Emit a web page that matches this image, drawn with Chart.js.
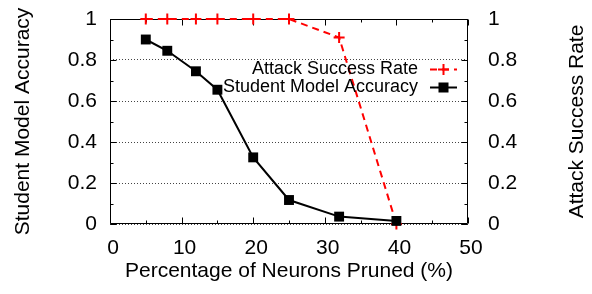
<!DOCTYPE html>
<html>
<head>
<meta charset="utf-8">
<script src="https://cdn.jsdelivr.net/npm/chart.js@4/dist/chart.umd.min.js"></script>
<style>
  html, body { margin: 0; padding: 0; background: #fff; }
  canvas { display: block; }
</style>
</head>
<body>
<canvas id="chart" width="592" height="294"></canvas>
<script>
/* pruning chart: accuracy vs attack success */
const pruned = [5, 8, 12, 15, 20, 25, 32, 40];
const accuracy = [0.90, 0.845, 0.745, 0.655, 0.325, 0.117, 0.036, 0.015];
const attackRate = [1, 1, 1, 1, 1, 1, 0.91, 0];

const xTicks = [0, 10, 20, 30, 40, 50];
const xMinor = [5, 15, 25, 35, 45];
const yTicks = [0, 0.2, 0.4, 0.6, 0.8, 1];
const yTickLabels = ['0', '0.2', '0.4', '0.6', '0.8', '1'];
const yMinor = [0.1, 0.3, 0.5, 0.7, 0.9];

const FONT = '"Liberation Sans", Arial, Helvetica, sans-serif';
const RED = '#ff0000';

const setTicks = list => scale => { scale.ticks = list.map(v => ({ value: v })); };
const yLabel = (v, i) => yTickLabels[i];
// fixed axis size, no extra label overhang
const fitTo = (w, h) => s => {
  if (w) s.width = w;
  if (h) s.height = h;
  s.paddingTop = s.paddingBottom = s.paddingLeft = s.paddingRight = 0;
};

// frame with inward ticks on all four sides
const frame = {
  id: 'frame',
  beforeDatasetsDraw(chart) {
    const { ctx, chartArea: a, scales: { x, y } } = chart;
    ctx.save();
    ctx.strokeStyle = '#000';
    ctx.lineWidth = 1;
    ctx.setLineDash([]);
    ctx.beginPath();
    const L = a.left + 0.5, R = a.right - 0.5, T = a.top + 0.5, B = a.bottom - 0.5;
    ctx.rect(L, T, R - L, B - T);
    const tx = (v, len) => {
      const px = Math.round(x.getPixelForValue(v)) + 0.5;
      ctx.moveTo(px, B); ctx.lineTo(px, B - len);
      ctx.moveTo(px, T); ctx.lineTo(px, T + len);
    };
    const ty = (v, len) => {
      const py = Math.round(y.getPixelForValue(v)) + 0.5;
      ctx.moveTo(L, py); ctx.lineTo(L + len, py);
      ctx.moveTo(R, py); ctx.lineTo(R - len, py);
    };
    xTicks.forEach(v => tx(v, 6));
    xMinor.forEach(v => tx(v, 3));
    yTicks.forEach(v => ty(v, 6));
    yMinor.forEach(v => ty(v, 3));
    ctx.stroke();
    ctx.restore();
  },
  afterDraw(chart) {
    const { ctx, chartArea: a } = chart;
    ctx.save();
    // right axis title, reading bottom to top
    ctx.fillStyle = '#000';
    ctx.font = '21px ' + FONT;
    ctx.textAlign = 'center';
    ctx.textBaseline = 'middle';
    ctx.translate(577, (a.top + a.bottom) / 2);
    ctx.rotate(-Math.PI / 2);
    ctx.fillText('Attack Success Rate', 0, 0);
    ctx.restore();

    // legend inside the plot, top right
    const rows = [chart.data.datasets[0], chart.data.datasets[1]];
    const textR = a.right - 50, s0 = a.right - 38, s1 = a.right - 11;
    const ys = [a.top + 50.5, a.top + 68.5];
    ctx.save();
    ctx.font = '18px ' + FONT;
    ctx.textAlign = 'right';
    ctx.textBaseline = 'middle';
    rows.forEach((ds, i) => {
      const yy = ys[i];
      ctx.fillStyle = '#000';
      ctx.fillText(ds.label, textR, yy);
      ctx.strokeStyle = ds.borderColor;
      ctx.lineWidth = ds.borderWidth;
      ctx.setLineDash(ds.borderDash || []);
      ctx.beginPath();
      ctx.moveTo(s0, yy); ctx.lineTo(s1, yy);
      ctx.stroke();
      ctx.setLineDash([]);
      const cx = (s0 + s1) / 2;
      if (ds.pointStyle === 'cross') {
        ctx.lineWidth = 2;
        ctx.beginPath();
        ctx.moveTo(cx - 5.5, yy); ctx.lineTo(cx + 5.5, yy);
        ctx.moveTo(cx, yy - 5.5); ctx.lineTo(cx, yy + 5.5);
        ctx.stroke();
      } else {
        ctx.fillStyle = ds.pointBackgroundColor;
        ctx.fillRect(cx - 5, yy - 5, 10, 10);
      }
    });
    ctx.restore();
  }
};

new Chart(document.getElementById('chart'), {
  type: 'line',
  data: {
    datasets: [
      {
        label: 'Attack Success Rate',
        data: pruned.map((v, i) => ({ x: v, y: attackRate[i] })),
        yAxisID: 'y2',
        borderColor: RED, borderWidth: 2, borderDash: [7, 5],
        pointStyle: 'cross', pointRadius: 5.5, pointBorderWidth: 2,
        pointBorderColor: RED, pointBackgroundColor: RED,
        tension: 0, clip: false, order: 1
      },
      {
        label: 'Student Model Accuracy',
        data: pruned.map((v, i) => ({ x: v, y: accuracy[i] })),
        yAxisID: 'y',
        borderColor: '#000', borderWidth: 2,
        pointStyle: 'rect', pointRadius: 7, pointBorderWidth: 0,
        pointBackgroundColor: '#000', pointBorderColor: '#000',
        tension: 0, clip: false, order: 0
      }
    ]
  },
  options: {
    responsive: false,
    animation: false,
    events: [],
    layout: { padding: { top: 19, left: 0, right: 0, bottom: 0 } },
    plugins: { legend: { display: false }, tooltip: { enabled: false } },
    scales: {
      x: {
        type: 'linear', min: 0, max: 50,
        afterBuildTicks: setTicks(xTicks),
        afterFit: fitTo(0, 70),
        ticks: { color: '#000', font: { family: FONT, size: 21 }, padding: 12, labelOffset: 3 },
        grid: { display: false, drawTicks: false },
        border: { display: false },
        title: {
          display: true, text: 'Percentage of Neurons Pruned (%)', color: '#000',
          font: { family: FONT, size: 21 }, padding: { top: 0, bottom: 10 }
        }
      },
      y: {
        position: 'left', min: 0, max: 1,
        afterBuildTicks: setTicks(yTicks),
        afterFit: fitTo(110, 0),
        ticks: { color: '#000', font: { family: FONT, size: 21 }, padding: 13, callback: yLabel },
        grid: { color: '#444', lineWidth: 1, drawTicks: false },
        border: { display: false, dash: [1, 2] },
        title: {
          display: true, text: 'Student Model Accuracy', color: '#000',
          font: { family: FONT, size: 21 }, padding: { top: 11, bottom: 0 }
        }
      },
      y2: {
        position: 'right', min: 0, max: 1,
        afterBuildTicks: setTicks(yTicks),
        afterFit: fitTo(124, 0),
        ticks: { color: '#000', font: { family: FONT, size: 21 }, padding: 20, callback: yLabel },
        grid: { display: false, drawTicks: false },
        border: { display: false }
      }
    }
  },
  plugins: [frame]
});
</script>
</body>
</html>
